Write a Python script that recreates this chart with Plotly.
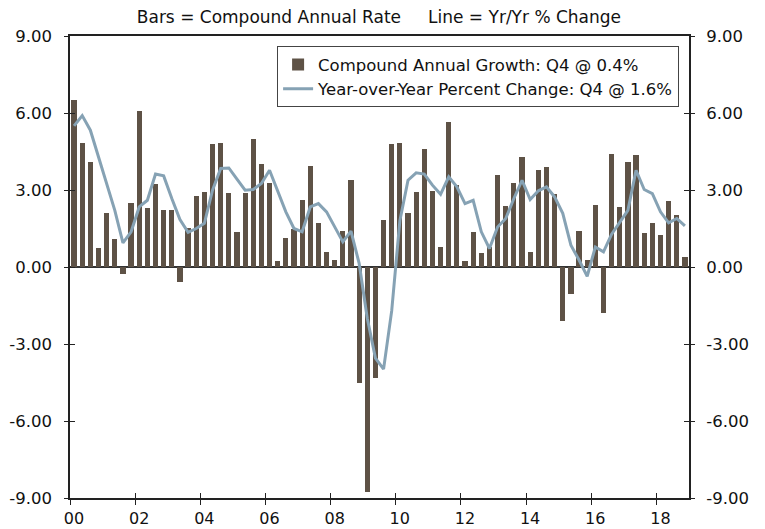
import plotly.graph_objects as go

# ---- data (quarterly, 2000 Q1 .. 2018 Q4) ----
years = list(range(2000, 2019))
quarters = [1, 2, 3, 4]

bar_values = [
    6.50, 4.83, 4.09, 0.73,   # 2000
    2.10, 1.11, -0.28, 2.49,  # 2001
    6.07, 2.30, 3.23, 2.21,   # 2002
    2.21, -0.59, 1.52, 2.77,  # 2003
    2.91, 4.81, 4.82, 2.89,   # 2004
    1.38, 2.89, 4.99, 4.01,   # 2005
    3.27, 0.22, 1.14, 1.50,   # 2006
    2.61, 3.92, 1.70, 0.59,   # 2007
    0.26, 1.41, 3.38, -4.51,  # 2008
    -8.76, -4.32, 1.85, 4.81, # 2009
    4.83, 2.10, 2.91, 4.59,   # 2010
    2.98, 0.76, 5.65, 3.19,   # 2011
    0.22, 1.36, 0.54, 0.78,   # 2012
    3.60, 2.37, 3.29, 4.28,   # 2013
    0.58, 3.78, 3.89, 2.86,   # 2014
    -2.12, -1.05, 1.41, 0.27, # 2015
    2.41, -1.79, 4.39, 2.33,  # 2016
    4.09, 4.37, 1.33, 1.70,   # 2017
    1.25, 2.59, 2.03, 0.40,   # 2018
]

line_values = [
    5.50, 5.90, 5.33, 4.29,   # 2000
    3.25, 2.21, 0.94, 1.37,   # 2001
    2.34, 2.60, 3.62, 3.55,   # 2002
    2.67, 1.85, 1.35, 1.50,   # 2003
    1.70, 2.99, 3.84, 3.86,   # 2004
    3.42, 2.99, 3.02, 3.25,   # 2005
    3.77, 2.99, 2.15, 1.50,   # 2006
    1.37, 2.34, 2.47, 2.15,   # 2007
    1.56, 0.98, 1.40, 0.14,   # 2008
    -2.00, -3.55, -3.98, -1.70, # 2009
    1.80, 3.38, 3.67, 3.62,   # 2010
    3.19, 2.83, 3.51, 3.12,   # 2011
    2.47, 2.60, 1.37, 0.72,   # 2012
    1.56, 1.89, 2.67, 3.38,   # 2013
    2.63, 2.97, 3.12, 2.73,   # 2014
    2.09, 0.85, 0.27, -0.36,  # 2015
    0.78, 0.59, 1.28, 1.76,   # 2016
    2.21, 3.77, 3.02, 2.86,   # 2017
    2.15, 1.72, 1.89, 1.60,   # 2018
]

x_tick_years = list(range(2000, 2019, 2))
x_tick_text = ["00", "02", "04", "06", "08", "10", "12", "14", "16", "18"]
y_tick_vals = [-9, -6, -3, 0, 3, 6, 9]
y_tick_text = ["-9.00", "-6.00", "-3.00", "0.00", "3.00", "6.00", "9.00"]

bar_name = "Compound Annual Growth: Q4 @ 0.4%"
line_name = "Year-over-Year Percent Change: Q4 @ 1.6%"
title_text = "Bars = Compound Annual Rate\u00a0\u00a0\u00a0\u00a0\u00a0Line = Yr/Yr % Change"

# quarter positions on a continuous year axis (bar centres)
x_pos = [y + (q - 0.5) / 4 for y in years for q in quarters]

FONT = "DejaVu Sans, Verdana, sans-serif"
BAR_COLOR = "#5E5246"
LINE_COLOR = "#86A2B4"
AXIS_COLOR = "#222"
X_RANGE = [2000, 2019]
Y_RANGE = [-9, 9]

fig = go.Figure()
fig.add_trace(go.Bar(x=x_pos, y=bar_values, name=bar_name, width=0.16,
                     marker=dict(color=BAR_COLOR, line=dict(width=0)),
                     xaxis="x", yaxis="y"))
fig.add_trace(go.Scatter(x=x_pos, y=line_values, name=line_name, mode="lines",
                         line=dict(color=LINE_COLOR, width=3),
                         xaxis="x2", yaxis="y2"))

tick_font = dict(family=FONT, size=16.5, color="#111")
xtick_font = dict(family=FONT, size=16, color="#111")

# page body has an 8px default margin: size/margins compensate for it
fig.update_layout(
    width=757, height=521,
    margin=dict(l=62, r=76, t=28, b=31, pad=0),
    paper_bgcolor="white", plot_bgcolor="white",
    font=dict(family=FONT, color="#111"),
    showlegend=True,
    bargap=0,
    title=dict(text=title_text, x=0.490, xanchor="center", y=0.995, yanchor="top",
               yref="container", font=dict(family=FONT, size=17, color="#111")),
    legend=dict(x=0.984, y=0.978, xanchor="right", yanchor="top",
                bgcolor="white", bordercolor="#444", borderwidth=1,
                font=dict(family=FONT, size=16.5, color="#111"),
                tracegroupgap=0, itemwidth=30),
    # bottom axis: outside ticks + labels (labels sit on the Q1 bar)
    xaxis=dict(range=X_RANGE, tickvals=x_tick_years, ticktext=x_tick_text,
               ticks="outside", ticklen=5, tickcolor=AXIS_COLOR, tickwidth=1,
               ticklabelshift=4, ticklabelstandoff=0, tickfont=xtick_font,
               showline=True, linecolor=AXIS_COLOR, linewidth=1.5, mirror=True,
               showgrid=False, zeroline=False, automargin=False),
    # same bottom axis, inside ticks (so ticks cross the axis line)
    xaxis2=dict(range=X_RANGE, overlaying="x", anchor="y2", side="bottom",
                tickvals=x_tick_years, ticks="inside", ticklen=5, tickcolor=AXIS_COLOR,
                showticklabels=False, showline=False, showgrid=False, zeroline=False,
                automargin=False),
    # left labels, inside ticks on both sides
    yaxis=dict(range=Y_RANGE, tickvals=y_tick_vals, ticktext=y_tick_text,
               ticks="inside", ticklen=5, tickcolor=AXIS_COLOR, tickwidth=1,
               ticklabelstandoff=13, tickfont=tick_font,
               showline=True, linecolor=AXIS_COLOR, linewidth=1.5, mirror="ticks",
               showgrid=False, zeroline=True, zerolinecolor="#333", zerolinewidth=1.5,
               automargin=False),
    # right labels, outside ticks on both sides
    yaxis2=dict(range=Y_RANGE, overlaying="y", side="right", anchor="x2",
                tickvals=y_tick_vals, ticktext=y_tick_text,
                ticks="outside", ticklen=5, tickcolor=AXIS_COLOR, ticklabelstandoff=8,
                tickfont=tick_font, mirror="ticks",
                showline=False, showgrid=False, zeroline=False, automargin=False),
)

fig.write_html("out.html")
